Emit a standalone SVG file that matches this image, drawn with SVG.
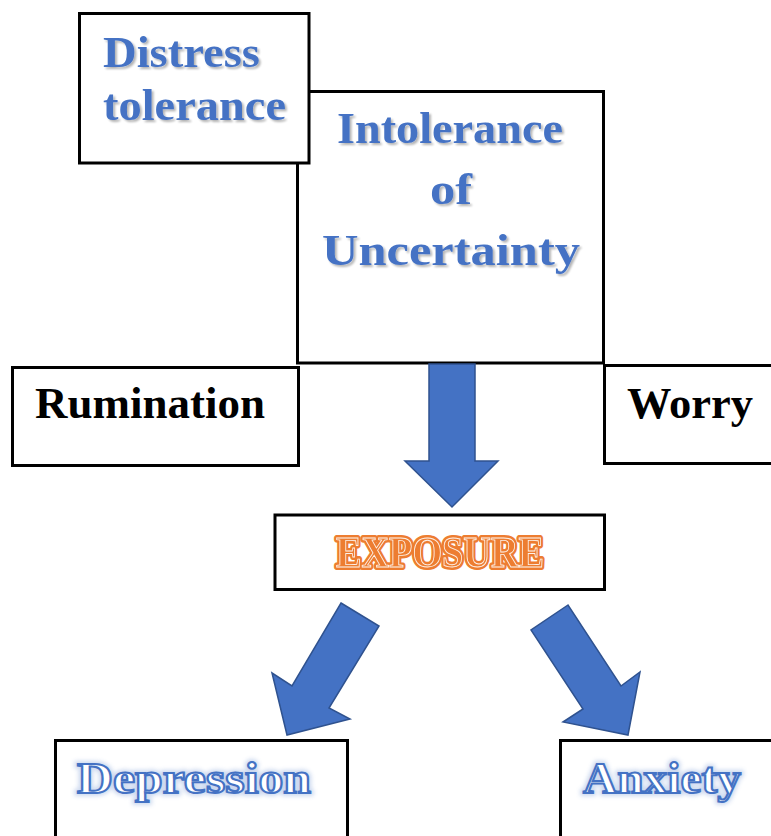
<svg xmlns="http://www.w3.org/2000/svg" width="771" height="836" viewBox="0 0 771 836">
<defs>
<style>
.box{fill:#ffffff;stroke:#000000;stroke-width:3}
.t{font-family:"Liberation Serif","Times New Roman",serif;font-weight:bold;font-size:44px}
.blue{fill:#4472C4}
.black{fill:#000000}
.arrow{fill:#4472C4;stroke:#2F528F;stroke-width:1.5;stroke-linejoin:miter}
.outl{fill:#ffffff;stroke:#4472C4;stroke-width:2}
.glow{fill:#4472C4;stroke:#8FAADC;stroke-width:6;opacity:0.45}
.exA{fill:#ED7D31;stroke:#ED7D31;stroke-width:6;stroke-linejoin:round}
.exB{fill:none;stroke:#ffffff;stroke-width:0.9;opacity:0.9}
.exC{fill:#ED7D31}
</style>
<filter id="shadow" x="-10%" y="-10%" width="120%" height="130%">
<feGaussianBlur in="SourceAlpha" stdDeviation="1.2" result="b"/>
<feOffset dx="1.5" dy="1.5" result="o"/>
<feComponentTransfer in="o" result="s"><feFuncA type="linear" slope="0.3"/></feComponentTransfer>
<feMerge><feMergeNode in="s"/><feMergeNode in="SourceGraphic"/></feMerge>
</filter>
<filter id="blur" x="-10%" y="-20%" width="120%" height="140%">
<feGaussianBlur stdDeviation="2"/>
</filter>
</defs>

<g id="intolerance">
<rect class="box" x="297.5" y="91.5" width="306" height="271.5"/>
<g class="t blue" filter="url(#shadow)">
<text x="337" y="143" textLength="226" lengthAdjust="spacingAndGlyphs">Intolerance</text>
<text x="430" y="204" textLength="42" lengthAdjust="spacingAndGlyphs">of</text>
<text x="322" y="265" textLength="258" lengthAdjust="spacingAndGlyphs">Uncertainty</text>
</g>
</g>

<g id="distress">
<rect class="box" x="79.5" y="13.5" width="229.5" height="149.5"/>
<g class="t blue" filter="url(#shadow)">
<text x="103" y="67" textLength="157" lengthAdjust="spacingAndGlyphs">Distress</text>
<text x="103" y="120" textLength="183" lengthAdjust="spacingAndGlyphs">tolerance</text>
</g>
</g>

<g id="rumination">
<rect class="box" x="12.5" y="367.5" width="286" height="98"/>
<text class="t black" x="35" y="418" textLength="230" lengthAdjust="spacingAndGlyphs">Rumination</text>
</g>

<g id="worry">
<rect class="box" x="604.5" y="365.5" width="170" height="98"/>
<text class="t black" x="627" y="418" textLength="126" lengthAdjust="spacingAndGlyphs">Worry</text>
</g>

<g id="exposure">
<rect class="box" x="275" y="515" width="329.5" height="74.5"/>
<g class="t">
<text class="exA" x="336" y="567" textLength="208" lengthAdjust="spacingAndGlyphs">EXPOSURE</text>
<text class="exC" x="336" y="567" textLength="208" lengthAdjust="spacingAndGlyphs">EXPOSURE</text>
<text class="exB" x="336" y="567" textLength="208" lengthAdjust="spacingAndGlyphs">EXPOSURE</text>
</g>
</g>

<g id="depression">
<rect class="box" x="55.5" y="740.5" width="292" height="110"/>
<g class="t">
<text class="glow" filter="url(#blur)" x="77" y="793" textLength="234" lengthAdjust="spacingAndGlyphs">Depression</text>
<text class="outl" x="77" y="793" textLength="234" lengthAdjust="spacingAndGlyphs">Depression</text>
</g>
</g>

<g id="anxiety">
<rect class="box" x="560.5" y="740.5" width="220" height="110"/>
<g class="t">
<text class="glow" filter="url(#blur)" x="583" y="793" textLength="158" lengthAdjust="spacingAndGlyphs">Anxiety</text>
<text class="outl" x="583" y="793" textLength="158" lengthAdjust="spacingAndGlyphs">Anxiety</text>
</g>
</g>

<g id="connectors">
<polygon class="arrow" points="429,364 475,364 475,461 498,461 452,507 405,461 429,461"/>
<polygon class="arrow" points="341,603 379,626 329,708 350,719 287,735 272,673 292,686"/>
<polygon class="arrow" points="568,605 531,630 583,709 563,722 628,735 640,672 621,686"/>
</g>
</svg>
